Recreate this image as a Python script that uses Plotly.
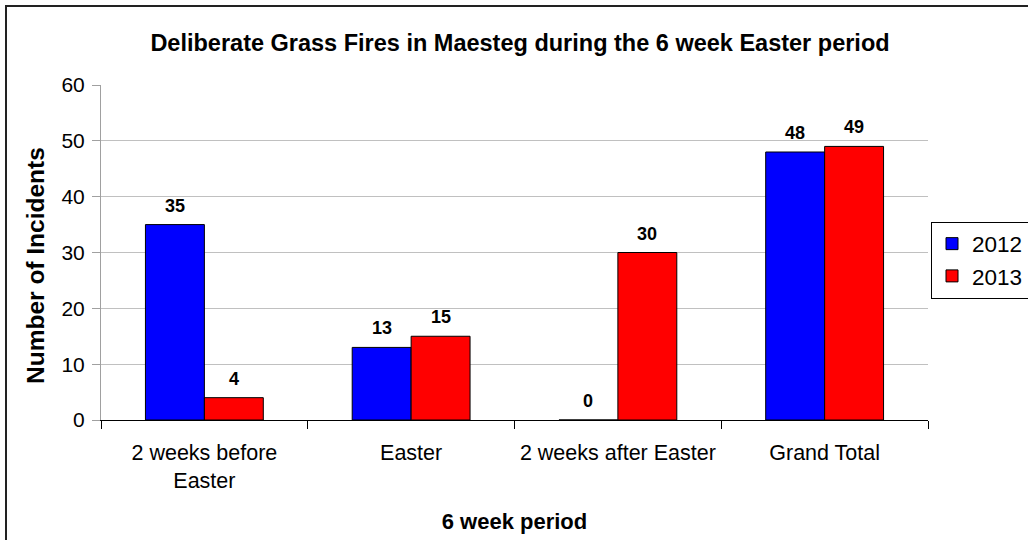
import plotly.graph_objects as go

categories = ["2 weeks before<br>Easter", "Easter", "2 weeks after Easter", "Grand Total"]
series_names = ["2012", "2013"]
values_2012 = [35, 13, 0, 48]
values_2013 = [4, 15, 30, 49]
colors = ["#0000FF", "#FF0000"]

FONT = "Liberation Sans, Arial, sans-serif"

fig = go.Figure()
for name, vals, col in zip(series_names, [values_2012, values_2013], colors):
    fig.add_trace(go.Bar(
        x=categories, y=vals, name=name,
        marker=dict(color=col, line=dict(color="black", width=1)),
    ))

# data labels
for i, vals in enumerate([values_2012, values_2013]):
    shift = -29.5 if i == 0 else 29.5
    for c, v in zip(categories, vals):
        fig.add_annotation(x=c, y=v, text=f"<b>{v}</b>", showarrow=False,
                           xref="x", yref="y", xshift=shift, yanchor="bottom", yshift=7,
                           font=dict(family=FONT, size=18, color="black"))

# y-axis title (placed as in the reference)
fig.add_annotation(text="<b>Number of Incidents</b>", textangle=-90, showarrow=False,
                   xref="paper", yref="paper", x=(35 - 101) / 827, y=(420 - 266) / 335,
                   xanchor="center", yanchor="middle",
                   font=dict(family=FONT, size=24.5, color="black"))

fig.update_layout(
    width=1028, height=540,
    margin=dict(l=101, r=100, t=85, b=120, autoexpand=False),
    paper_bgcolor="white", plot_bgcolor="white",
    barmode="group", bargap=0.43, bargroupgap=0,
    font=dict(family=FONT, size=21, color="black"),
    title=dict(text="<b>Deliberate Grass Fires in Maesteg during the 6 week Easter period</b>",
               x=520 / 1028, xanchor="center", y=1 - 43 / 540, yanchor="middle",
               font=dict(size=23.5)),
    legend=dict(xref="container", yref="container", x=931 / 1028, y=1 - 260 / 540,
                xanchor="left", yanchor="middle",
                bordercolor="black", borderwidth=1, bgcolor="white",
                font=dict(size=22.5), tracegroupgap=0, itemwidth=30),
    showlegend=True,
)
fig.update_xaxes(
    showline=True, linecolor="black", linewidth=1,
    ticks="outside", tickson="boundaries", ticklen=8, tickcolor="black",
    ticklabelstandoff=13,
    title=dict(text="<b>6 week period</b>", font=dict(size=22), standoff=21),
    tickfont=dict(size=21.5),
)
fig.update_yaxes(
    range=[0, 60], dtick=10, showgrid=True, gridcolor="#c0c0c0", gridwidth=1,
    showline=True, linecolor="#a0a0a0", linewidth=1,
    ticks="outside", ticklen=8, tickcolor="#a0a0a0",
    ticklabelstandoff=3,
    tickfont=dict(size=21), zeroline=False,
)
# outer chart border (cropped at right and bottom in the reference)
fig.add_shape(type="rect", xref="paper", yref="paper",
              x0=(6 - 101) / 827, x1=1 + 140 / 827, y0=-160 / 335, y1=1 + 79 / 335,
              line=dict(color="#222222", width=2), layer="above")

fig.write_html("out.html", config={"displayModeBar": False},
               post_script="document.body.style.margin='0';")
